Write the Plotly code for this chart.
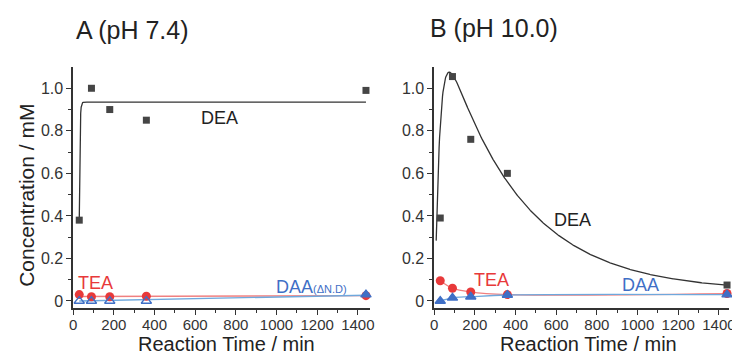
import numpy as np
import plotly.graph_objects as go

# ---- data ----
time = [30, 90, 180, 360, 1440]
dea_a = [0.38, 1.00, 0.90, 0.85, 0.99]
tea_a = [0.030, 0.020, 0.020, 0.022, 0.025]
daa_a = [0.0, 0.0, 0.0, 0.0, 0.030]
dea_b = [0.39, 1.055, 0.76, 0.60, 0.075]
tea_b = [0.095, 0.060, 0.042, 0.030, 0.035]
daa_b = [0.0, 0.015, 0.020, 0.028, 0.030]
x_ticks = [0, 200, 400, 600, 800, 1000, 1200, 1400]
y_ticks = [0, 0.2, 0.4, 0.6, 0.8, 1.0]
y_tick_labels = ["0", "0.2", "0.4", "0.6", "0.8", "1.0"]

# fitted model curves
ta = np.linspace(30, 1440, 600)
fit_a = 0.935 - 0.555 * np.exp(-(ta - 30) / 3.0)
tb = np.linspace(10, 1440, 600)
fit_b = (0.045 + 1.34 * np.exp(-tb / 376.0)) * (1 - np.exp(-(tb - 4.1) / 25.0))

C_DEA = "#454545"
C_TEA = "#e8393a"
C_DAA = "#3f6fc6"
L_TEA = "#f08080"
L_DAA = "#6fa8dc"
FONT = "Liberation Sans, Arial"
NARROW = "Liberation Sans Narrow, Arial Narrow, Liberation Sans, Arial"

# page offset (browser body margin) compensation
OFF = 8
W, H = 740 - OFF, 356 - OFF
TOP, BOT = 67 - OFF, 308 - OFF
PH = BOT - TOP

def px(x):
    return (x - OFF) / W

def py(y):
    return (BOT - (y - OFF)) / PH

fig = go.Figure()

def add_panel(xa, ya, dea, tea, daa, fit_t, fit_y, daa_open, tea_line_y, daa_line_y, line_x):
    fig.add_trace(go.Scatter(x=line_x, y=tea_line_y, mode="lines", line=dict(color=L_TEA, width=1.3, shape="spline"),
                             xaxis=xa, yaxis=ya, showlegend=False))
    fig.add_trace(go.Scatter(x=line_x, y=daa_line_y, mode="lines", line=dict(color=L_DAA, width=1.3, shape="spline"),
                             xaxis=xa, yaxis=ya, showlegend=False))
    fig.add_trace(go.Scatter(x=fit_t, y=fit_y, mode="lines", line=dict(color="#333333", width=1.3),
                             xaxis=xa, yaxis=ya, showlegend=False))
    fig.add_trace(go.Scatter(x=time, y=dea, mode="markers", marker=dict(symbol="square", size=7, color=C_DEA),
                             xaxis=xa, yaxis=ya, showlegend=False, cliponaxis=False))
    fig.add_trace(go.Scatter(x=time, y=tea, mode="markers", marker=dict(symbol="circle", size=9, color=C_TEA),
                             xaxis=xa, yaxis=ya, showlegend=False, cliponaxis=False))
    syms = ["triangle-up-open" if o else "triangle-up" for o in daa_open]
    fig.add_trace(go.Scatter(x=time, y=daa, mode="markers",
                             marker=dict(symbol=syms, size=9, color=C_DAA, line=dict(color=C_DAA, width=1.3)),
                             xaxis=xa, yaxis=ya, showlegend=False, cliponaxis=False))

# Panel A: near-flat fit lines
add_panel("x", "y", dea_a, tea_a, daa_a, ta, fit_a, [True, True, True, True, False],
          [0.021, 0.025], [0.0, 0.027], [30, 1440])
# Panel B: lines through points
add_panel("x2", "y2", dea_b, tea_b, daa_b, tb, fit_b, [False] * 5,
          tea_b, daa_b, time)

axis_common = dict(tickvals=x_ticks, ticks="outside", ticklen=5, tickwidth=1.3,
                   tickcolor="#333", showline=True, linecolor="#333", linewidth=1.5, showgrid=False,
                   zeroline=False, tickfont=dict(size=15, color="#333", family=NARROW),
                   ticklabelstandoff=-3,
                   minor=dict(dtick=100, ticks="outside", ticklen=3, tickcolor="#333", tickwidth=1),
                   fixedrange=True)
yaxis_common = dict(range=[-0.033, 1.1], tickvals=y_ticks, ticktext=y_tick_labels, ticks="outside", ticklen=5,
                    tickwidth=1.3, tickcolor="#333", showline=True, linecolor="#333", linewidth=1.5,
                    showgrid=False, zeroline=False,
                    tickfont=dict(size=16, color="#333", family=FONT),
                    minor=dict(tickvals=[0.1, 0.3, 0.5, 0.7, 0.9], ticks="outside", ticklen=3, tickcolor="#333", tickwidth=1),
                    fixedrange=True)

fig.update_layout(
    width=W, height=H,
    margin=dict(l=0, r=0, t=TOP, b=H - BOT),
    paper_bgcolor="white", plot_bgcolor="white",
    font=dict(family=FONT, color="#222"),
    xaxis=dict(domain=[px(70), px(371)], anchor="y", range=[0, 1460], **axis_common),
    yaxis=dict(domain=[0, 1], anchor="x", **yaxis_common),
    xaxis2=dict(domain=[px(436), px(735)], anchor="y2", range=[0, 1450], **axis_common),
    yaxis2=dict(domain=[0, 1], anchor="x2", **yaxis_common),
)

ann = []
def txt(x, y, s, color, size, xref="paper", yref="paper", **kw):
    ann.append(dict(x=x, y=y, xref=xref, yref=yref, text=s, showarrow=False,
                    font=dict(size=size, color=color, family=FONT), **kw))

# titles
txt(px(130), py(30), "A (pH 7.4)", "#222", 25, xanchor="center", yanchor="middle")
txt(px(497), py(28), "B (pH 10.0)", "#222", 25, xanchor="center", yanchor="middle")
# axis titles
txt(px(22), py(195), "Concentration / mM", "#222", 21, textangle=-90, xanchor="center", yanchor="middle")
txt(px(225), py(344), "Reaction Time / min", "#222", 20, xanchor="center", yanchor="middle")
txt(px(592), py(344), "Reaction Time / min", "#222", 20, xanchor="center", yanchor="middle")
# series labels
txt(722, 0.86, "DEA", "#222", 18, xref="x", yref="y")
txt(110, 0.085, "TEA", C_TEA, 18, xref="x", yref="y")
txt(1170, 0.065, "DAA<span style='font-size:11px'>(ΔN.D)</span>", C_DAA, 18, xref="x", yref="y")
txt(680, 0.38, "DEA", "#222", 18, xref="x2", yref="y2")
txt(282, 0.10, "TEA", C_TEA, 18, xref="x2", yref="y2")
txt(1015, 0.075, "DAA", C_DAA, 18, xref="x2", yref="y2")

fig.update_layout(annotations=ann)
fig.write_html("out.html")
